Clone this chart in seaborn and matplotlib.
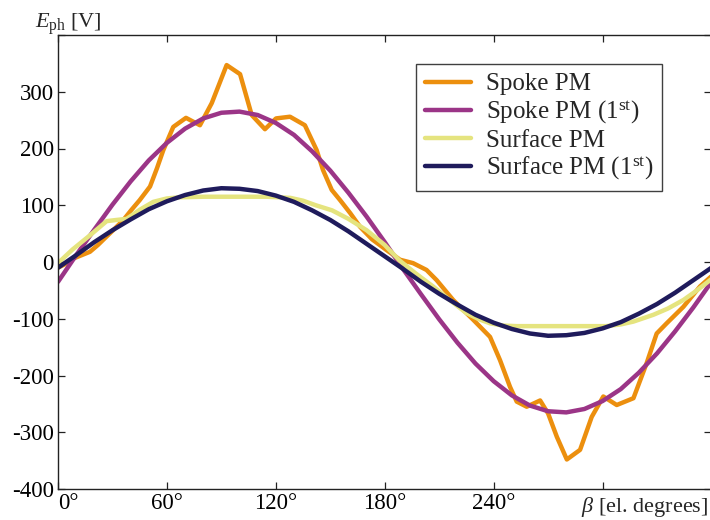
import matplotlib
matplotlib.use("Agg")
import matplotlib.pyplot as plt
import pandas as pd
import seaborn as sns

# Phase EMF of the spoke-type and surface-mounted PM machines vs. electrical angle
spoke_beta = [0, 5, 8.4, 13, 17.6, 22, 26.8, 31, 36, 40.5, 45, 50.7, 54.5, 58, 63.5,
              70.5, 78.2, 84.7, 92.9, 100.3, 106.7, 114, 120.1, 127.8, 136, 142.5,
              146, 150.8, 155.4, 161, 166.4, 173, 181, 188.4, 195.6, 203, 208.6,
              217.7, 228.8, 238, 243.5, 249, 252.7, 258.2, 265.6, 270, 274.8, 280.3,
              287.6, 294, 300.4, 307.8, 317, 324.3, 329.8, 335.3, 344.5, 353.7, 360]
spoke_emf = [-10, -2, 6, 12, 18, 30, 45, 58, 74, 92, 109, 133, 165, 197, 238,
             254, 241, 280, 347, 331, 259, 234, 253, 256, 241, 197,
             162, 127, 109, 86, 62, 40, 21, 4, -2, -14, -32,
             -67, -102, -132, -173, -220, -246, -255, -244, -267, -308, -348,
             -331, -273, -237, -252, -240, -178, -126, -108, -79, -43, -25]

surface_beta = [0, 8, 17.6, 26.8, 32, 37.8, 45, 52.5, 60, 67, 80, 100, 115, 128, 135,
                142, 151, 160, 170, 180, 188, 197, 206.6, 215, 225, 232, 238, 245,
                252.7, 270, 290, 302, 310, 317, 328, 336, 344.5, 352, 360]
surface_emf = [-2, 22, 47, 72, 74, 76, 92, 106, 112, 114, 115, 115, 115, 113, 108,
               100, 91, 76, 56, 30, 3, -20, -43, -65, -90, -101, -108, -112,
               -113, -113, -113, -113, -110, -105, -93, -82, -67, -50, -30]

fund_beta = [0, 10, 20, 30, 40, 50, 60, 70, 80, 90, 100, 110, 120, 130, 140, 150,
             160, 170, 180, 190, 200, 210, 220, 230, 240, 250, 260, 270, 280, 290,
             300, 310, 320, 330, 340, 350, 360]
spoke_fund = [-35, 12, 57, 101, 142, 179, 210, 235, 253, 263, 265, 259, 245, 224,
              195, 161, 122, 80, 35, -12, -57, -101, -142, -179, -210, -235, -253,
              -263, -265, -259, -245, -224, -195, -161, -122, -80, -35]
surface_fund = [-10, 12, 35, 56, 75, 93, 107, 118, 126, 130, 129, 125, 117, 106,
                91, 74, 54, 32, 10, -12, -35, -56, -75, -93, -107, -118, -126,
                -130, -129, -125, -117, -106, -91, -74, -54, -32, -10]

series_names = ["Spoke PM", r"Spoke PM (1$^{\rm st}$)",
                "Surface PM", r"Surface PM (1$^{\rm st}$)"]
series_colors = ["#EC8F0E", "#9B3587", "#E5E47F", "#1F1B5C"]

x_ticks = [0, 60, 120, 180, 240, 300, 360]
x_tick_labels = ["0°", "60°", "120°", "180°", "240°", "", ""]
y_ticks = [-400, -300, -200, -100, 0, 100, 200, 300, 400]
y_tick_labels = ["-400", "-300", "-200", "-100", "0", "100", "200", "300", ""]

frames = [
    pd.DataFrame({"beta": spoke_beta, "emf": spoke_emf, "series": series_names[0]}),
    pd.DataFrame({"beta": fund_beta, "emf": spoke_fund, "series": series_names[1]}),
    pd.DataFrame({"beta": surface_beta, "emf": surface_emf, "series": series_names[2]}),
    pd.DataFrame({"beta": fund_beta, "emf": surface_fund, "series": series_names[3]}),
]
df = pd.concat(frames, ignore_index=True)

sns.set_theme(style="white")
plt.rcParams["font.family"] = ["Liberation Serif", "DejaVu Serif"]
plt.rcParams["mathtext.fontset"] = "custom"
plt.rcParams["mathtext.rm"] = "Liberation Serif"
plt.rcParams["mathtext.it"] = "Liberation Serif:italic"

W, H = 710, 520
fig = plt.figure(figsize=(W / 100, H / 100), dpi=100)
ax = fig.add_axes([58 / W, 31 / H, 653.5 / W, 454 / H])

sns.lineplot(data=df, x="beta", y="emf", hue="series", hue_order=series_names,
             palette=dict(zip(series_names, series_colors)), linewidth=3.2,
             estimator=None, sort=False, ax=ax)

ax.set_xlim(0, 360)
ax.set_ylim(-400, 400)
ax.set_xticks(x_ticks)
ax.set_xticklabels(x_tick_labels)
ax.set_yticks(y_ticks)
ax.set_yticklabels(y_tick_labels)
ax.set_xlabel("")
ax.set_ylabel("")
ax.tick_params(direction="in", length=5, width=0.9, colors="#222222",
               labelsize=16.5, bottom=True, left=True, top=True, right=True)
ax.tick_params(axis="x", pad=3)
ax.tick_params(axis="y", pad=3)
for lab in ax.get_xticklabels() + ax.get_yticklabels():
    lab.set_color("black")
# first angle label sits just right of the origin
ax.get_xticklabels()[0].set_horizontalalignment("left")
for sp in ax.spines.values():
    sp.set_color("#222222")
    sp.set_linewidth(1.0)

leg = ax.legend(loc="upper left", bbox_to_anchor=(0.548, 0.936), borderaxespad=0,
                fontsize=18, frameon=True, fancybox=False, framealpha=1,
                edgecolor="#404040", handlelength=1.85, handletextpad=0.6,
                labelspacing=0.12, borderpad=0.35)
leg.get_frame().set_linewidth(1.0)
for line in leg.get_lines():
    line.set_linewidth(3.2)

fig.text(35 / W, 1 - 28 / H, r"$E_{\rm ph}$ [V]", fontsize=16, ha="left", va="baseline")
fig.text(708 / W, 8 / H, r"$\beta$ [el. degrees]", fontsize=16, ha="right", va="baseline")

fig.savefig("out.png", dpi=100)
